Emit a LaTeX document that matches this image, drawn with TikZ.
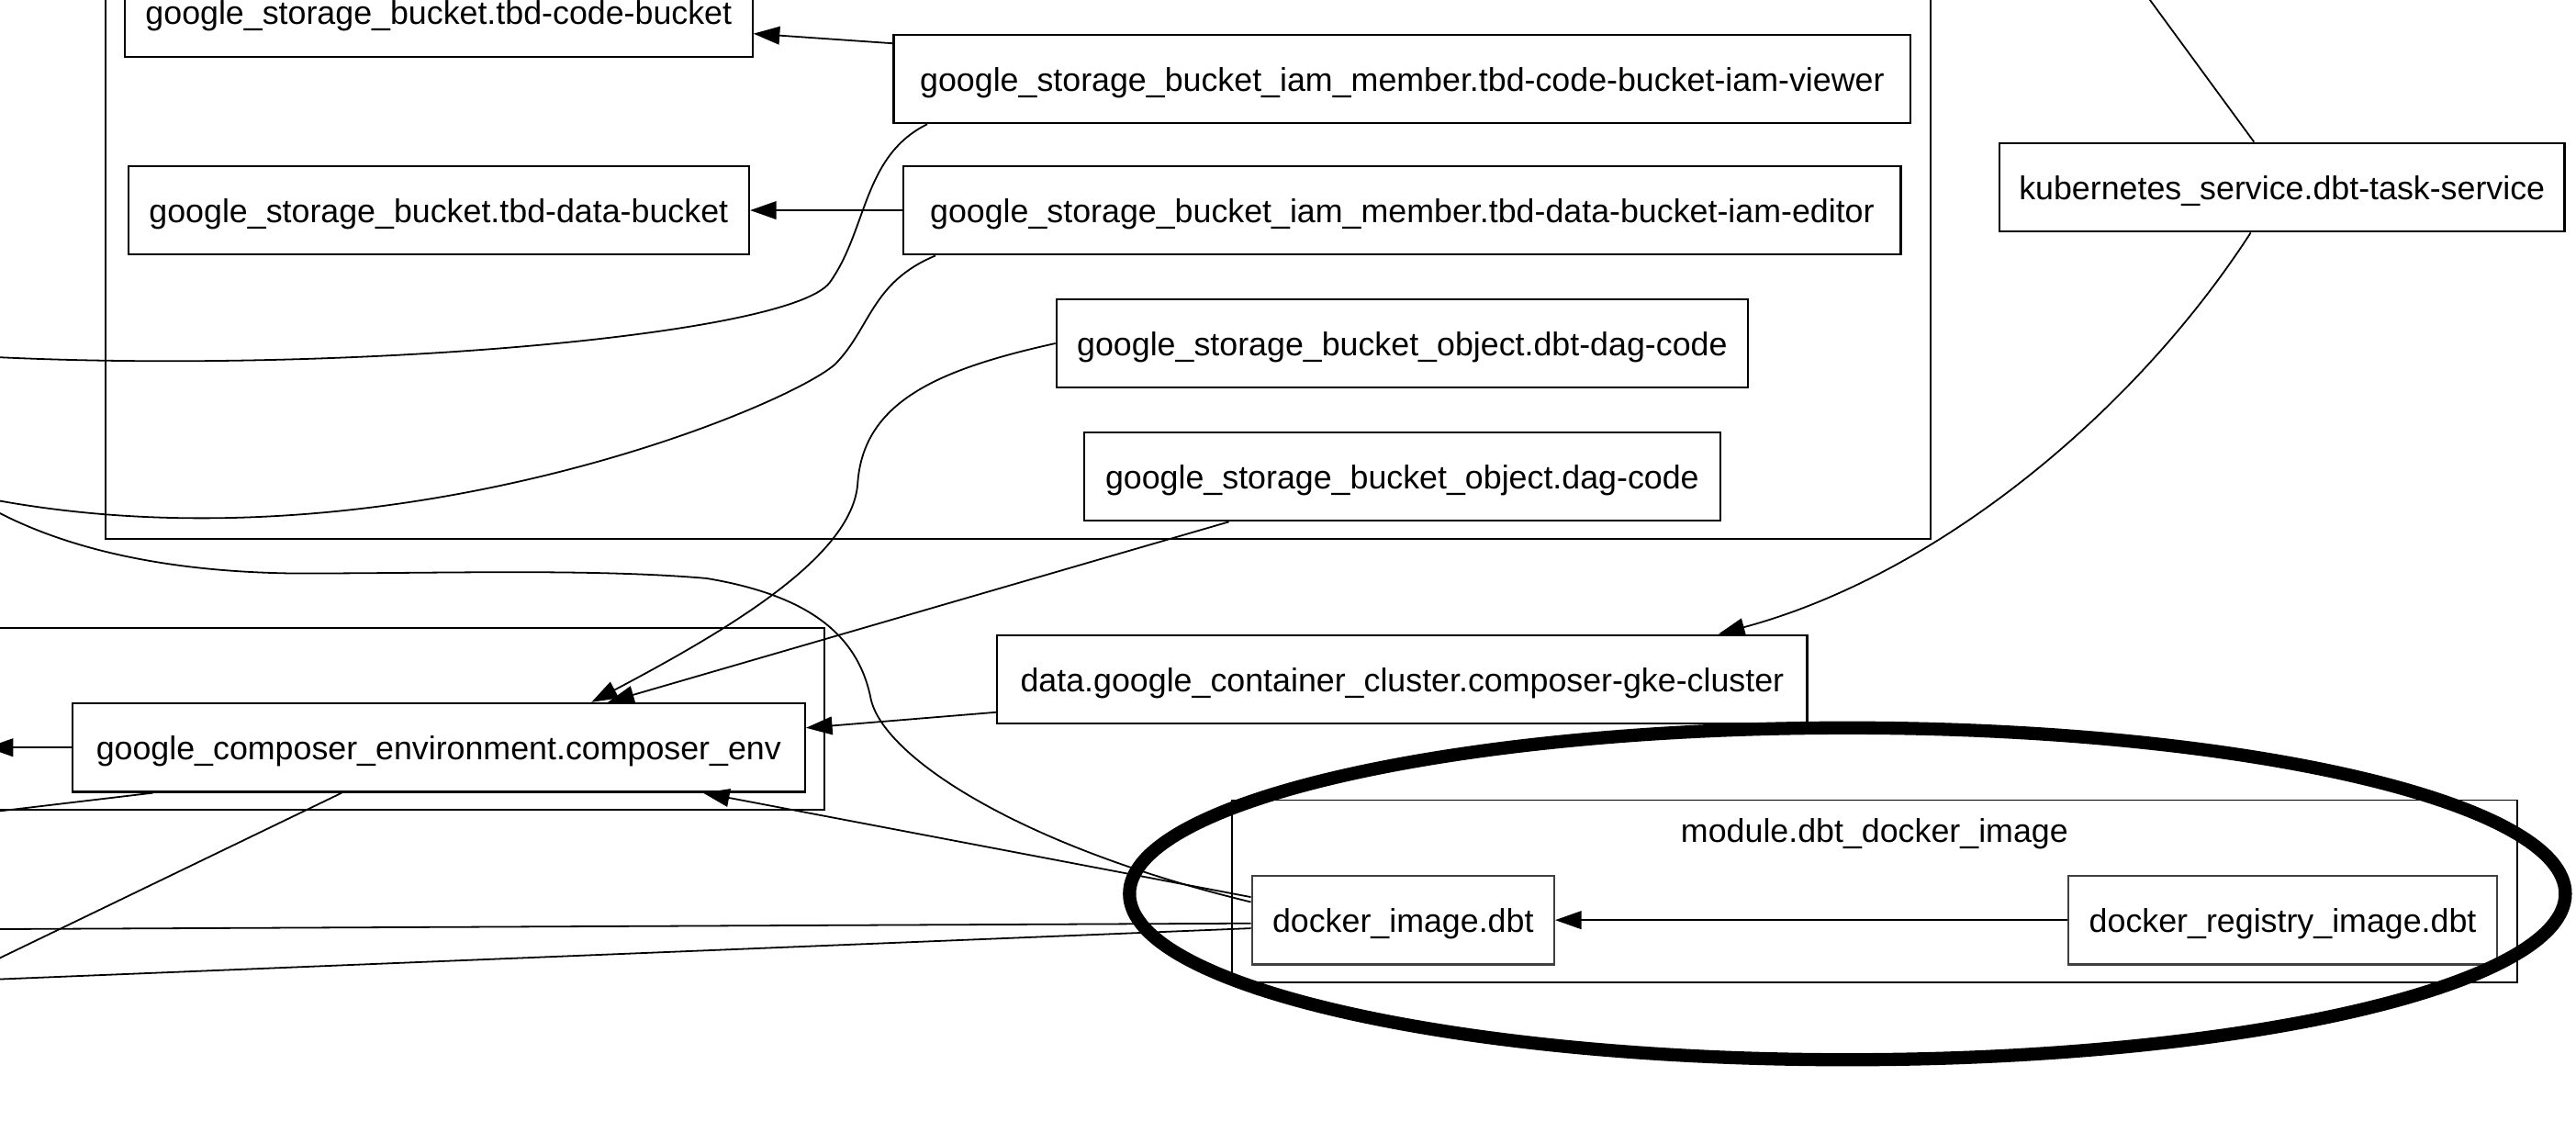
\documentclass[tikz,border=0pt]{standalone}
\usepackage{fontspec}
\setmainfont{Liberation Sans}
\usetikzlibrary{arrows.meta,shapes.geometric}

\begin{document}
\begin{tikzpicture}[x=1pt,y=-1pt,
  >={Triangle[length=16pt,width=11pt]},
  res/.style={draw,line width=1.2pt,inner sep=0pt,minimum height=54pt,
    text height=15pt,text depth=0pt,font=\fontsize{20}{24}\selectfont},
  dock/.style={res,draw=black!75},
  grp/.style={draw,line width=1.1pt},
  dep/.style={->,line width=1pt},
  link/.style={line width=1pt}]
\path[use as bounding box] (0,0) rectangle (1568,682);
\clip (0,0) rectangle (1568,682);

% clusters
\draw[grp] (64,-60) rectangle (1175,328);
\draw[grp] (-20,382) rectangle (502,493);
\draw[grp] (750,487) rectangle (1532,598);
\node[text height=15pt,text depth=0pt,font=\fontsize{20}{24}\selectfont] (modlabel) at (1141,505) {module.dbt\_docker\_image};

% resources
\node[res,minimum width=382pt] (codebucket) at (267,7.5) {google\_storage\_bucket.tbd-code-bucket};
\node[res,minimum width=619pt] (viewer) at (853.5,48) {google\_storage\_bucket\_iam\_member.tbd-code-bucket-iam-viewer};
\node[res,minimum width=378pt] (databucket) at (267,128) {google\_storage\_bucket.tbd-data-bucket};
\node[res,minimum width=607pt] (editor) at (853.5,128) {google\_storage\_bucket\_iam\_member.tbd-data-bucket-iam-editor};
\node[res,minimum width=421pt] (dbtdag) at (853.5,209) {google\_storage\_bucket\_object.dbt-dag-code};
\node[res,minimum width=387pt] (dagcode) at (853.5,290) {google\_storage\_bucket\_object.dag-code};
\node[res,minimum width=344pt] (k8s) at (1389,114) {kubernetes\_service.dbt-task-service};
\node[res,minimum width=493pt] (gke) at (853.5,413.5) {data.google\_container\_cluster.composer-gke-cluster};
\node[res,minimum width=446pt] (composer) at (267,455) {google\_composer\_environment.composer\_env};
\node[dock,minimum width=184pt] (dbtimage) at (854,560) {docker\_image.dbt};
\node[dock,minimum width=261pt] (registry) at (1389.5,560) {docker\_registry\_image.dbt};

% ends of edges that leave the picture
\coordinate (offviewer) at (-10,217);
\coordinate (offeditor) at (-10,303);
\coordinate (offimage) at (-10,307);
\coordinate (offk8s) at (1305,-5);
\coordinate (offenv) at (-8,455);
\coordinate (offenva) at (-20,496);
\coordinate (offenvb) at (-20,592.7);
\coordinate (offimagea) at (-20,565.6);
\coordinate (offimageb) at (-20,596.8);

\path[dep]
([yshift=-6pt]viewer.north west) edge ([yshift=-13pt]codebucket.east)
(editor.west) edge (databucket.east)
([yshift=-20pt]gke.west) edge ([yshift=12pt]composer.east)
([xshift=-105.5pt]dagcode.south) edge ([xshift=103pt]composer.north)
([yshift=14pt]dbtimage.west) edge ([xshift=161pt]composer.south)
(composer.west) edge (offenv)
(registry.west) edge (dbtimage.east);

\draw[dep] ([xshift=-19pt]k8s.south) .. controls (1300,250) and (1180,350) .. ([xshift=192.5pt]gke.north);
\draw[dep] (dbtdag.west) .. controls (570,225) and (525,245) .. (522,295)
  .. controls (518,340) and (440,385) .. ([xshift=93pt]composer.north);

\draw[link] ([xshift=21pt]viewer.south west) .. controls (525,95) and (528,140) .. (505,172)
  .. controls (480,205) and (200,228) .. (offviewer);
\draw[link] ([xshift=20pt]editor.south west) .. controls (530,172) and (530,200) .. (508,222)
  .. controls (475,250) and (230,350) .. (offeditor);
\draw[link] (offimage) .. controls (30,330) and (90,348) .. (180,349)
  .. controls (270,349) and (360,346) .. (430,352)
  .. controls (490,362) and (522,385) .. (530,425)
  .. controls (537,460) and (620,515) .. ([yshift=11pt]dbtimage.west);
\draw[link] ([xshift=-17pt]k8s.north) -- (offk8s);
\draw[link] ([xshift=-174pt]composer.south) -- (offenva);
\draw[link] ([xshift=-59pt]composer.south) -- (offenvb);
\draw[link] ([yshift=-2pt]dbtimage.west) -- (offimagea);
\draw[link] ([yshift=-5pt]dbtimage.west) -- (offimageb);

% highlight
\node[draw,ellipse,line width=8pt,inner sep=0pt,minimum width=874pt,minimum height=202pt] (highlight) at (1124.5,544) {};
\end{tikzpicture}
\end{document}
